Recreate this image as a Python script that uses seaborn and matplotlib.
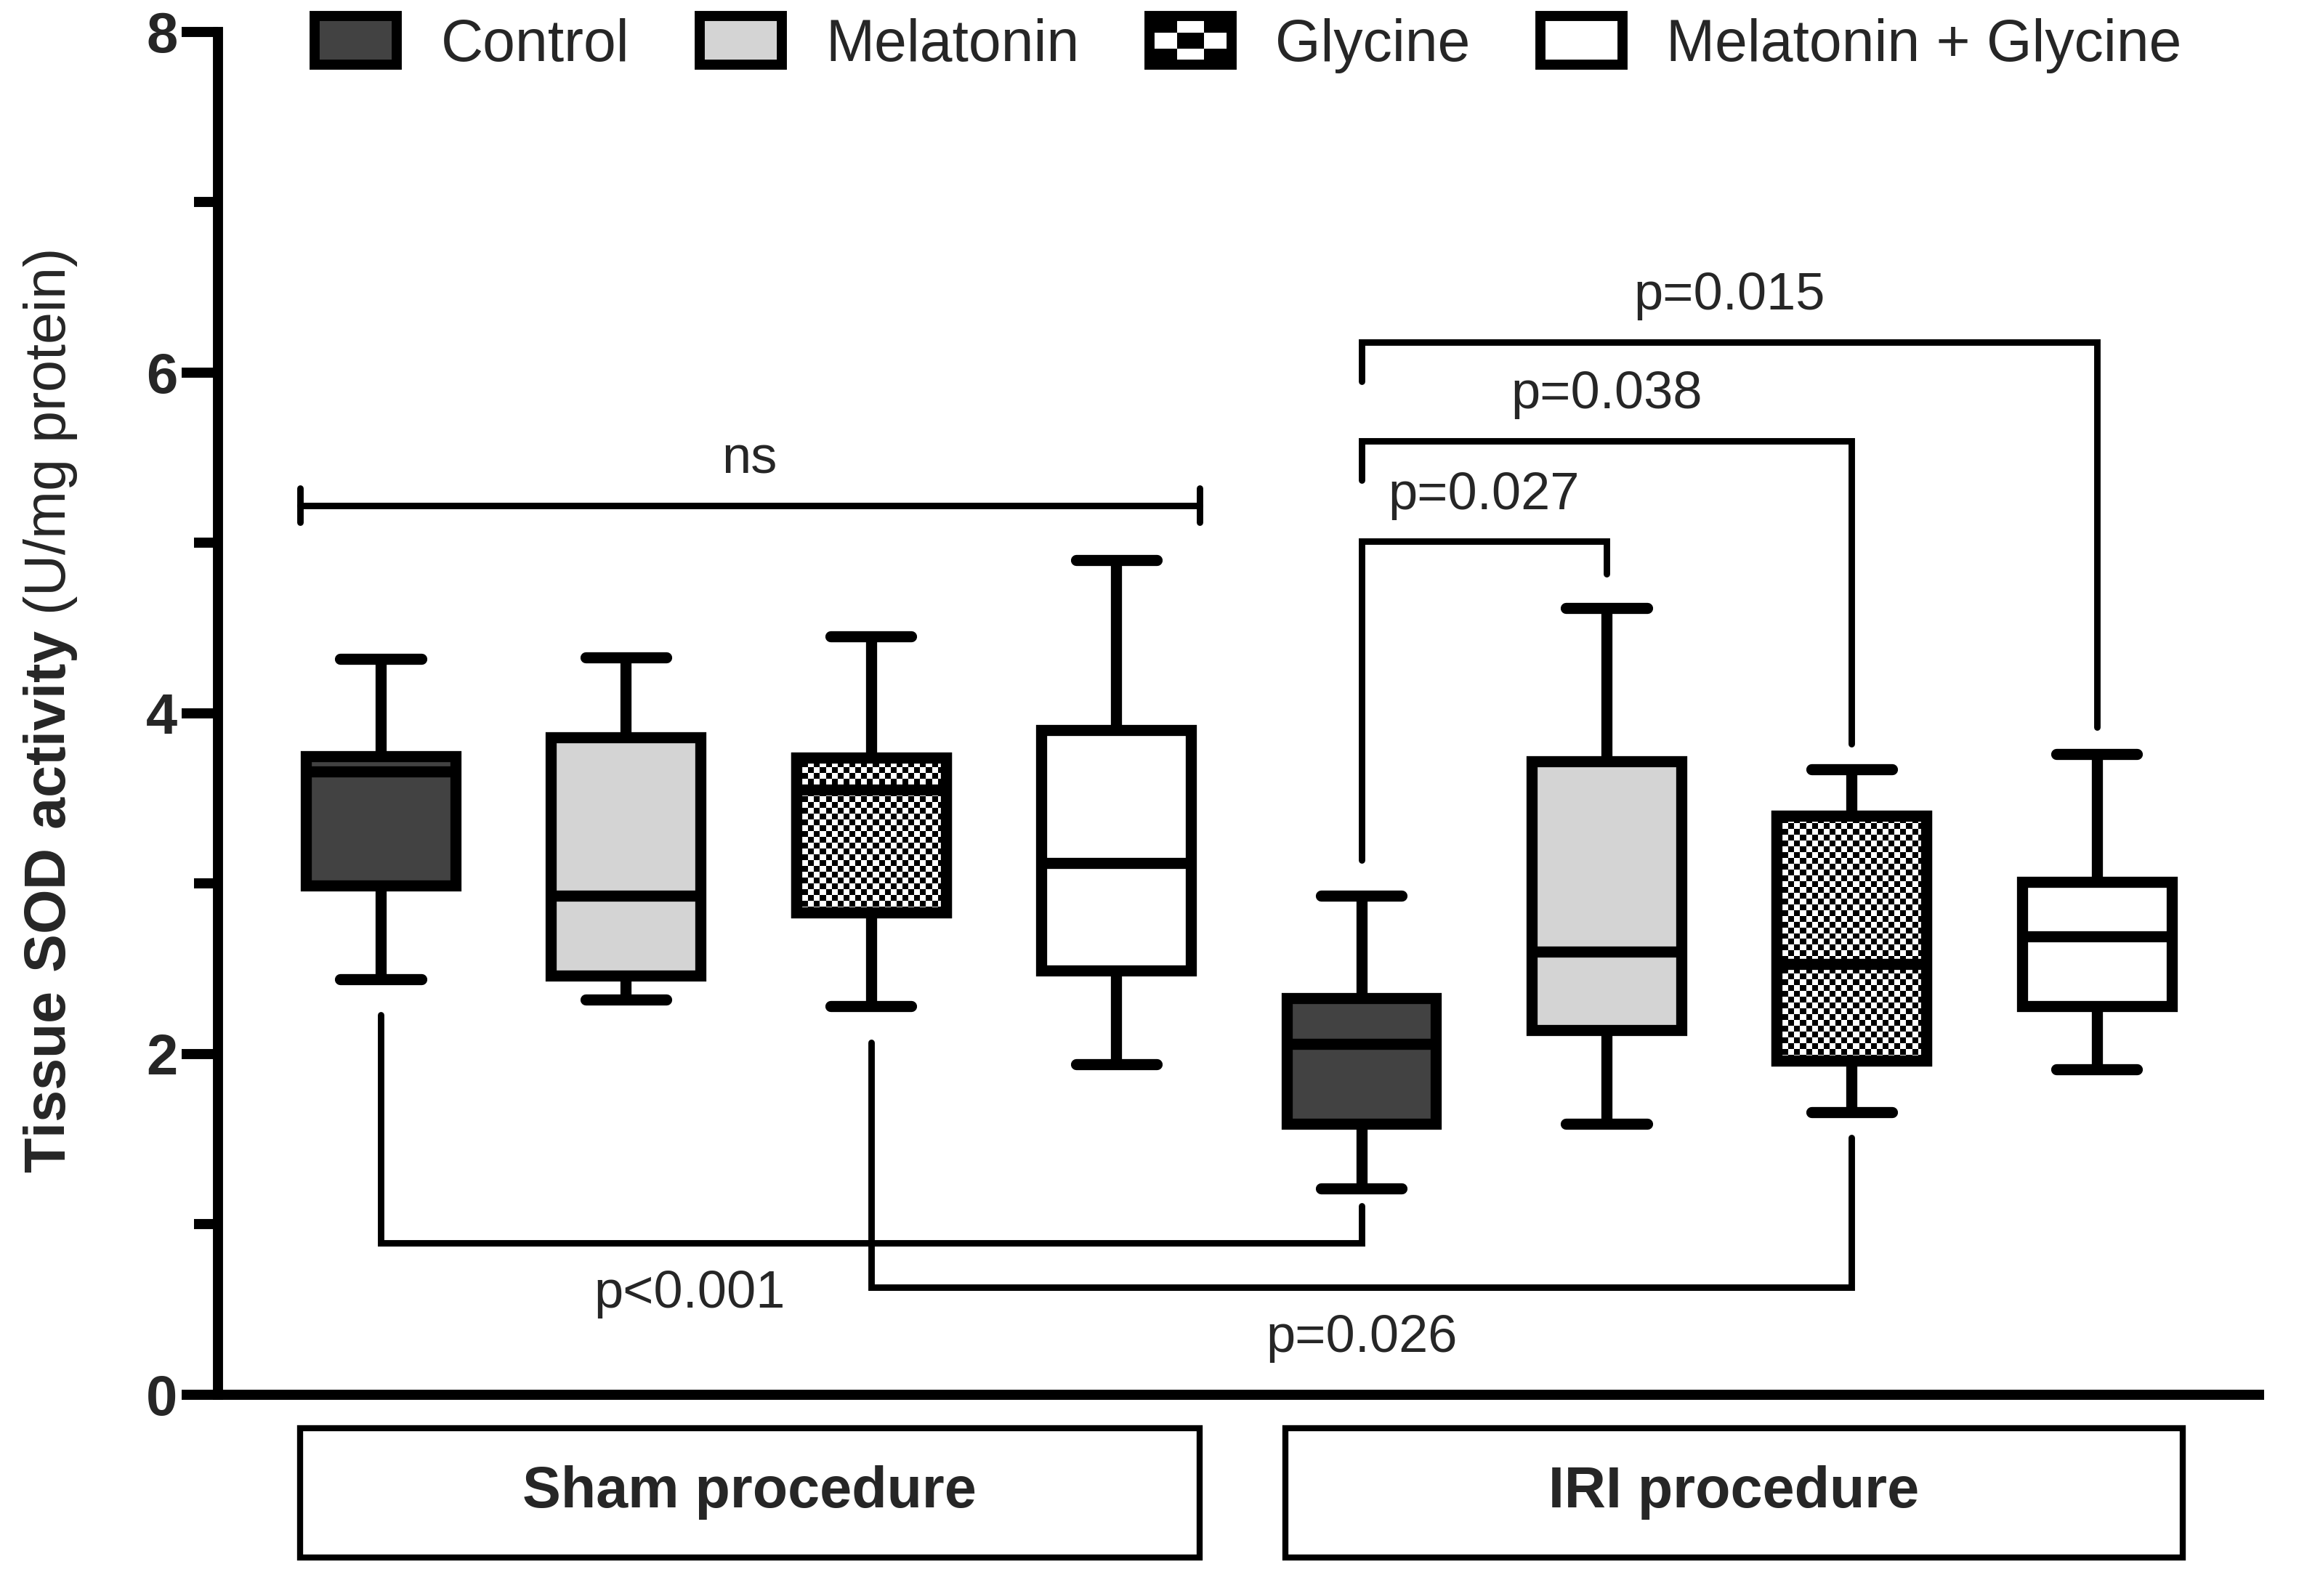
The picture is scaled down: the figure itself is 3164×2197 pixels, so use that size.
import numpy as np
import pandas as pd
import seaborn as sns
import matplotlib
matplotlib.use("Agg")
import matplotlib.pyplot as plt
from matplotlib.patches import Rectangle, Patch, PathPatch
from matplotlib.legend_handler import HandlerBase

# groups and treatments
procedures = ["Sham procedure", "IRI procedure"]
treatments = ["Control", "Melatonin", "Glycine", "Melatonin + Glycine"]
fills = ["#424242", "#d4d4d4", "white", "white"]

# five-number summaries (sham x4, then IRI x4)
whisker_low = [2.44, 2.32, 2.28, 1.94, 1.21, 1.59, 1.66, 1.91]
q1 = [2.99, 2.46, 2.83, 2.49, 1.59, 2.14, 1.96, 2.28]
median = [3.66, 2.93, 3.55, 3.12, 2.06, 2.60, 2.53, 2.69]
q3 = [3.75, 3.86, 3.74, 3.90, 2.33, 3.72, 3.40, 3.01]
whisker_high = [4.32, 4.33, 4.45, 4.90, 2.93, 4.62, 3.67, 3.76]

# comparison brackets: box index left/right, leg start, bar level, leg end
bracket_left = [0, 2, 4, 4, 4]
bracket_right = [4, 6, 5, 6, 7]
bracket_start = [2.23, 2.07, 3.14, 5.37, 5.95]
bracket_bar = [0.89, 0.63, 5.01, 5.60, 6.18]
bracket_end = [1.11, 1.51, 4.82, 3.82, 3.92]
bracket_labels = ["p<0.001", "p=0.026", "p=0.027", "p=0.038", "p=0.015"]
bracket_label_x = [1.26, 4.0, 4.5, 5.0, 5.5]

ns_span = (-0.33, 3.34)
ns_level = 5.22

box_labels = [f"{p} | {t}" for p in procedures for t in treatments]
df = pd.DataFrame({
    "box": np.repeat(box_labels, 5),
    "value": np.column_stack([whisker_low, q1, median, q3, whisker_high]).ravel(),
})

sns.set_theme(style="ticks")
plt.rcParams["font.family"] = ["Liberation Sans", "DejaVu Sans"]
plt.rcParams["mathtext.fontset"] = "custom"
plt.rcParams["mathtext.rm"] = "Liberation Sans"
plt.rcParams["mathtext.bf"] = "Liberation Sans:bold"

fig = plt.figure(figsize=(15.82, 10.985), dpi=200)
ax = fig.add_axes([0.0948, 0.1261, 0.890, 0.8539])

lw = 5.5
sns.boxplot(data=df, x="box", y="value", hue="box", order=box_labels,
            hue_order=box_labels, palette=dict(zip(box_labels, fills * 2)),
            saturation=1, width=0.61, whis=(0, 100), linewidth=lw,
            linecolor="black", showfliers=False, legend=False, ax=ax,
            capprops=dict(solid_capstyle="round"),
            boxprops=dict(joinstyle="miter"))

# widen the caps a little
for line in ax.lines:
    xs, ys = np.asarray(line.get_xdata()), np.asarray(line.get_ydata())
    if len(xs) == 2 and ys[0] == ys[1] and abs((xs[1] - xs[0]) - 0.305) < 1e-6:
        c = xs.mean()
        line.set_xdata([c - 0.165, c + 0.165])

# checkerboard fill for the glycine boxes
boxes = list(ax.patches)
cell_w, cell_h = 0.024, 0.034
for idx in [2, 6]:
    patch = boxes[idx]
    ext = patch.get_path().get_extents()
    nx = int(np.ceil(ext.width / cell_w)) + 1
    ny = int(np.ceil(ext.height / cell_h)) + 1
    checker = np.add.outer(np.arange(ny), np.arange(nx)) % 2
    im = ax.imshow(checker, cmap="gray", interpolation="nearest", aspect="auto",
                   origin="lower",
                   extent=(ext.x0, ext.x0 + nx * cell_w, ext.y0, ext.y0 + ny * cell_h),
                   zorder=patch.get_zorder() + 0.01)
    im.set_clip_path(patch)
    ax.add_patch(PathPatch(patch.get_path(), fill=False, edgecolor="black",
                           lw=lw, joinstyle="miter",
                           zorder=patch.get_zorder() + 0.02))

# brackets
blw = 3.2
for i in range(len(bracket_labels)):
    x0, x1 = bracket_left[i], bracket_right[i]
    ax.plot([x0, x0, x1, x1],
            [bracket_start[i], bracket_bar[i], bracket_bar[i], bracket_end[i]],
            color="black", lw=blw, solid_joinstyle="miter",
            solid_capstyle="round", zorder=3)
    above = bracket_bar[i] > bracket_start[i]
    ty = bracket_bar[i] + (0.19 if above else -0.38)
    ax.text(bracket_label_x[i], ty, bracket_labels[i], ha="center",
            va="baseline", fontsize=26)

ax.plot(ns_span, [ns_level, ns_level], color="black", lw=blw, zorder=3)
for xe in ns_span:
    ax.plot([xe, xe], [ns_level - 0.1, ns_level + 0.1], color="black",
            lw=blw, solid_capstyle="round", zorder=3)
ax.text(np.mean(ns_span), ns_level + 0.19, "ns", ha="center", va="baseline",
        fontsize=26)

# procedure boxes under the axis
group_spans = [(-0.33, 3.34), (3.69, 7.35)]
for name, (a, b) in zip(procedures, group_spans):
    ax.add_patch(Rectangle((a, -0.955), b - a, 0.76, fill=False,
                           edgecolor="black", lw=3, clip_on=False))
    ax.text((a + b) / 2, -0.575, name, ha="center", va="center",
            fontsize=28.5, fontweight="bold")

ax.set_xlim(-0.664, 7.682)
ax.set_ylim(0, 8)
ax.set_xticks([])
ax.set_xlabel("")
ax.set_ylabel("")
ax.set_yticks([0, 2, 4, 6, 8])
ax.set_yticks([1, 3, 5, 7], minor=True)
ax.tick_params(axis="y", which="major", length=18, width=5, labelsize=28,
               pad=2, color="black")
ax.tick_params(axis="y", which="minor", length=12, width=5, color="black")
for lab in ax.get_yticklabels():
    lab.set_fontweight("bold")
sns.despine(ax=ax)
for side in ["left", "bottom"]:
    ax.spines[side].set_linewidth(5)
    ax.spines[side].set_color("black")
ax.spines["bottom"].set_capstyle("butt")

fig.text(0.0221, 0.554, r"$\mathbf{Tissue\ SOD\ activity}$ (U/mg protein)",
         rotation=90, ha="center", va="center", fontsize=28.5)


class CheckerHandler(HandlerBase):
    def create_artists(self, legend, orig_handle, xdescent, ydescent,
                       width, height, fontsize, trans):
        x0, y0 = -xdescent, -ydescent
        arts = [Rectangle((x0, y0), width, height, facecolor="white",
                          edgecolor="none", transform=trans)]
        n = 3
        cw, ch = width / n, height / n
        for i in range(n):
            for j in range(n):
                if (i + j) % 2 == 0:
                    arts.append(Rectangle((x0 + i * cw, y0 + j * ch), cw, ch,
                                          facecolor="black", edgecolor="none",
                                          transform=trans))
        arts.append(Rectangle((x0, y0), width, height, fill=False,
                              edgecolor="black", lw=5, transform=trans))
        return arts


handles = [Patch(facecolor=f, edgecolor="black", linewidth=5) for f in fills]
fig.legend(handles, treatments, handler_map={handles[2]: CheckerHandler()},
           loc="center", bbox_to_anchor=(0.543, 0.972), ncol=4, frameon=False,
           fontsize=29, handlelength=1.4, handleheight=0.9, handletextpad=0.75,
           columnspacing=1.2, borderaxespad=0, borderpad=0)

fig.savefig("out.png", dpi=200)
